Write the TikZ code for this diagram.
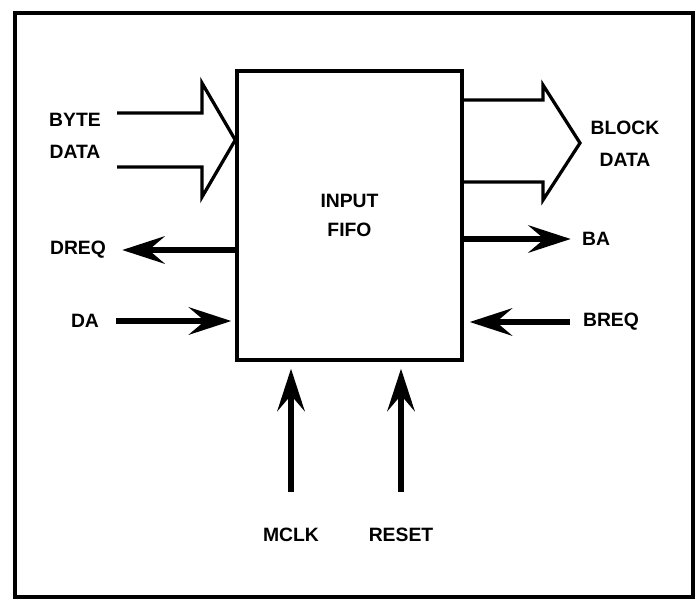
\documentclass[tikz,border=0pt]{standalone}
\usepackage{fontspec}
\setmainfont{Liberation Sans}
\usetikzlibrary{arrows.meta}
\begin{document}
\begin{tikzpicture}[x=0.02cm, y=-0.02cm,
        lbl/.style={inner sep=0pt, font=\fontsize{11}{18}\selectfont\bfseries, align=center},
        sig/.style={line width=0.11cm, -{Stealth[length=0.85cm, width=0.55cm, inset=0.32cm]}},
        bus/.style={line width=0.065cm, line join=miter}]
            \useasboundingbox (0,0) rectangle (700,599);
            \draw[line width=0.07cm] (15,13) rectangle (693,597);
            \node[draw, line width=0.07cm, minimum width=4.5cm, minimum height=5.78cm, inner sep=0pt,
                font=\fontsize{11}{16.5}\selectfont\bfseries, align=center] (fifo) at (349.5,215.5) {INPUT\\FIFO};
            \node[lbl] (byte) at (75,136) {BYTE\\DATA};
            \node[lbl] (block) at (625,144) {BLOCK\\DATA};
            \node[lbl] (dreq) at (78,250) {DREQ};
            \node[lbl] (da) at (85,321) {DA};
            \node[lbl] (ba) at (596,239) {BA};
            \node[lbl] (breq) at (611,322) {BREQ};
            \node[lbl] (mclk) at (291,535) {MCLK};
            \node[lbl] (reset) at (401,535) {RESET};
            \draw[bus] (117,113) -- (202,113) -- (202,83) -- (fifo.west |- 0,140) -- (202,197) -- (202,167) -- (117,167);
            \draw[bus] (fifo.east |- 0,100) -- (543,100) -- (543,85) -- (580,143) -- (543,200) -- (543,182) -- (fifo.east |- 0,182);
            \draw[sig, shorten >=0.32cm] (dreq.east -| fifo.west) -- (dreq.east);
            \draw[sig, shorten <=0.34cm, shorten >=0.08cm] (da.east) -- (da.east -| fifo.west);
            \draw[sig, shorten >=0.22cm] (ba.west -| fifo.east) -- (ba.west);
            \draw[sig, shorten <=0.26cm, shorten >=0.12cm] (breq.west) -- (breq.west -| fifo.east);
            \draw[sig, shorten <=0.72cm, shorten >=0.14cm] (mclk.north) -- (mclk.north |- fifo.south);
            \draw[sig, shorten <=0.72cm, shorten >=0.14cm] (reset.north) -- (reset.north |- fifo.south);
        \end{tikzpicture}
\end{document}
